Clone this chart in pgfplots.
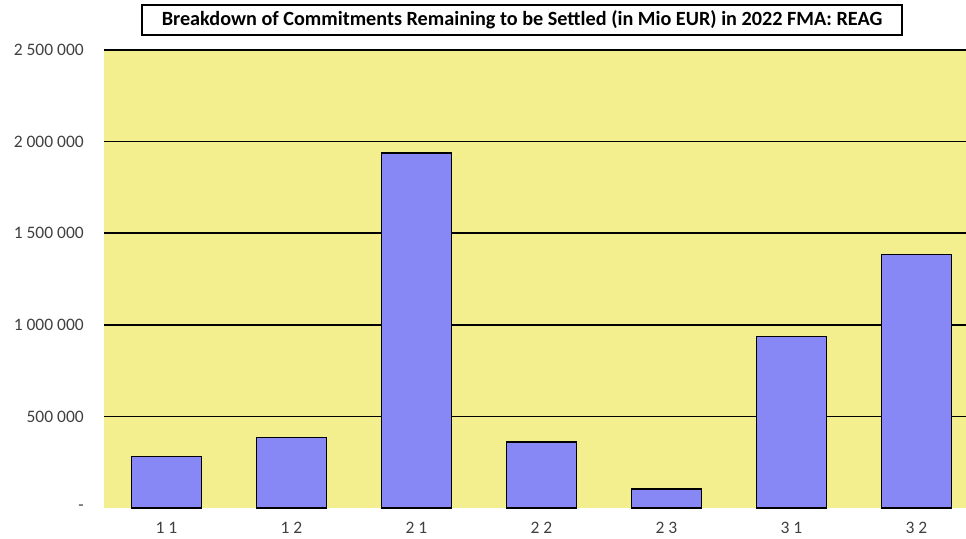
\documentclass[border=0pt]{standalone}
\usepackage{pgfplots}
\pgfplotsset{compat=1.18}
\usepackage{fontspec}
\setmainfont{Carlito}
\definecolor{plotbg}{HTML}{F3EF8E}
\definecolor{barfill}{HTML}{8787F5}
\definecolor{ticktext}{HTML}{404040}
\begin{document}
\begin{tikzpicture}[x=1pt,y=1pt]
\useasboundingbox (0,0) rectangle (966,538);
\begin{axis}[
  at={(104pt,30pt)}, anchor=south west,
  scale only axis, width=862pt, height=458pt,
  xmin=-0.5, xmax=6.396, ymin=0, ymax=2500000,
  scaled y ticks=false,
  axis background/.style={fill=plotbg},
  axis line style={draw=none},
  xtick={0,1,2,3,4,5,6},
  xticklabels={1 1,1 2,2 1,2 2,2 3,3 1,3 2},
  ytick={500000,1000000,1500000,2000000,2500000},
  yticklabels={500 000,1 000 000,1 500 000,2 000 000,2 500 000},
  extra y ticks={0}, extra y tick labels={-},
  extra y tick style={grid=none},
  ymajorgrids,
  grid style={black, line width=1.5pt},
  major tick length=0pt,
  tick style={draw=none},
  yticklabel style={font=\fontsize{17.5}{20}\selectfont, text=ticktext, inner sep=0pt, anchor=east, xshift=-20pt},
  xticklabel style={font=\fontsize{17.5}{20}\selectfont, text=ticktext, inner sep=0pt, anchor=north, yshift=-14pt},
]
\addplot[ybar, bar width=70pt, fill=barfill, draw=black, line width=1.3pt]
  coordinates {(0,280000) (1,383000) (2,1938000) (3,361000) (4,104000) (5,938000) (6,1385000)};
\end{axis}
\node[draw=black, line width=1.2pt, fill=white, minimum width=760pt, minimum height=30pt, inner sep=0pt,
  font=\bfseries\fontsize{20.2}{24}\selectfont] at (522,518) {Breakdown of Commitments Remaining to be Settled (in Mio EUR) in 2022 FMA: REAG};
\end{tikzpicture}
\end{document}
